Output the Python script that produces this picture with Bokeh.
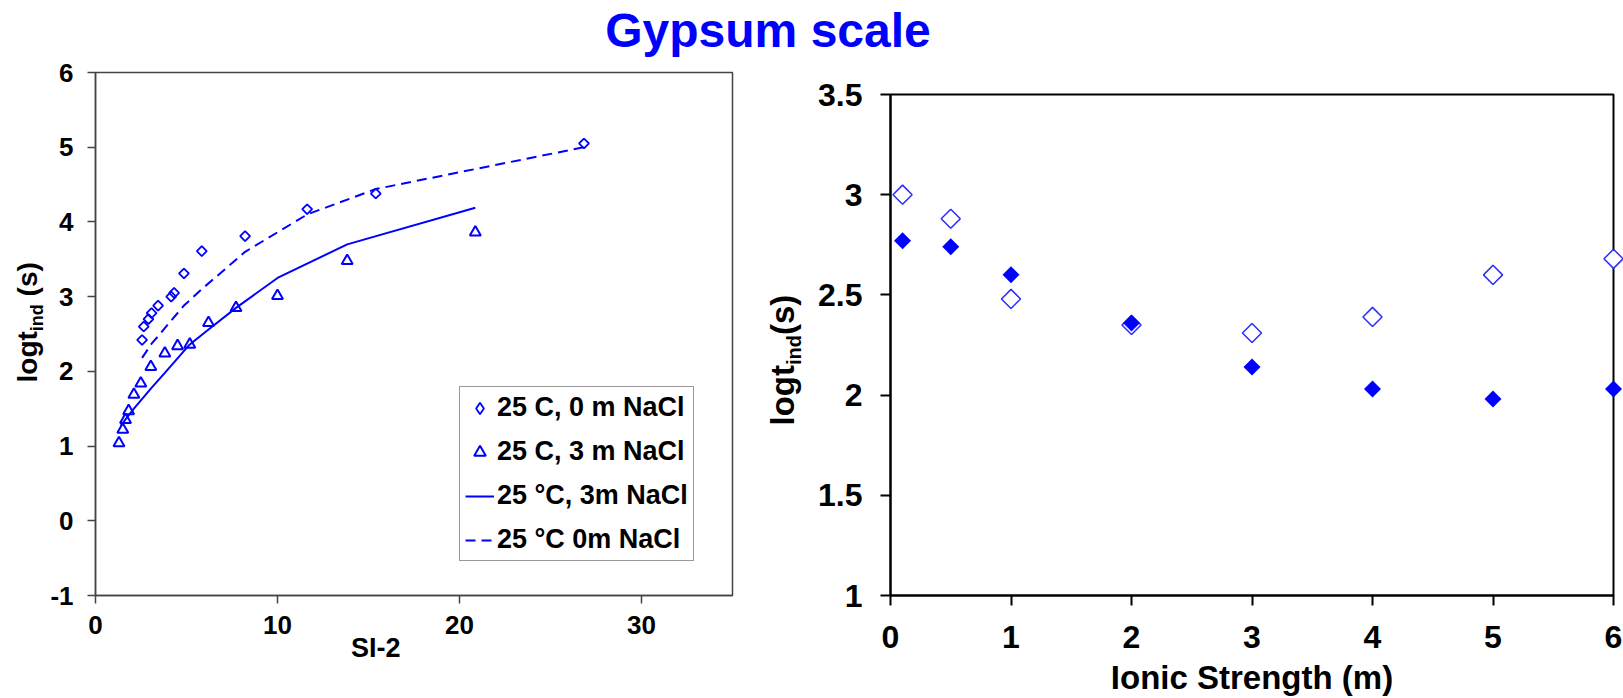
from math import pi

from bokeh.embed import file_html
from bokeh.layouts import column, row
from bokeh.models import (ColumnDataSource, FixedTicker, Label, Legend, LegendItem, LinearAxis,
                          NumeralTickFormatter, Range1d)
from bokeh.plotting import figure
from bokeh.resources import INLINE

# ---------------- data ----------------
# induction time vs supersaturation (SI-2), 25 C
si_0m = [2.56, 2.65, 2.91, 3.08, 3.44, 4.16, 4.32, 4.86, 5.84, 8.22, 11.63, 15.40, 26.84]
logt_0m = [2.42, 2.60, 2.70, 2.78, 2.88, 3.00, 3.05, 3.31, 3.61, 3.81, 4.17, 4.38, 5.05]

si_3m = [1.29, 1.50, 1.65, 1.82, 2.11, 2.49, 3.04, 3.81, 4.51, 5.18, 6.21, 7.72, 10.0, 13.83, 20.87]
logt_3m = [1.04, 1.22, 1.35, 1.47, 1.69, 1.84, 2.06, 2.24, 2.34, 2.36, 2.65, 2.85, 3.01, 3.48, 3.86]

# model curves
model_3m_si = [1.38, 1.66, 2.11, 3.04, 3.81, 5.18, 6.21, 7.72, 10.0, 13.83, 20.87]
model_3m_logt = [1.27, 1.36, 1.50, 1.77, 1.98, 2.36, 2.56, 2.85, 3.25, 3.70, 4.19]
model_0m_si = [2.56, 3.08, 3.44, 4.16, 4.86, 5.84, 8.22, 11.63, 15.40, 26.84]
model_0m_logt = [2.18, 2.37, 2.47, 2.68, 2.88, 3.10, 3.60, 4.10, 4.44, 5.00]

legend_labels = ["25 C, 0 m NaCl", "25 C, 3 m NaCl", "25 \u00b0C, 3m NaCl", "25 \u00b0C 0m NaCl"]

# induction time vs ionic strength
ionic = [0.1, 0.5, 1, 2, 3, 4, 5, 6]
logt_open = [3.00, 2.88, 2.48, 2.35, 2.31, 2.39, 2.60, 2.68]
logt_filled = [2.77, 2.74, 2.60, 2.36, 2.14, 2.03, 1.98, 2.03]

left_xticks = [0, 10, 20, 30]
left_yticks = [-1, 0, 1, 2, 3, 4, 5, 6]
right_xticks = [0, 1, 2, 3, 4, 5, 6]
right_yticks = [1, 1.5, 2, 2.5, 3, 3.5]

FONT = "Liberation Sans"
BLUE = "#0000ff"
ROW_H = 641


def style_axes(p, color, width, size):
    for ax in p.axis:
        ax.axis_line_color = color
        ax.axis_line_width = width
        ax.major_tick_line_color = color
        ax.major_tick_line_width = width
        ax.major_tick_in = 0
        ax.minor_tick_line_color = None
        ax.major_label_text_font = FONT
        ax.major_label_text_font_style = "bold"
        ax.major_label_text_font_size = size
        ax.major_label_text_color = "black"
    p.grid.grid_line_color = None
    p.outline_line_color = color
    p.outline_line_width = width


def text(x, y, s, size, angle=0.0, align="left", color="black"):
    return Label(x=x, y=y, x_units="screen", y_units="screen", text=s, angle=angle,
                 text_align=align, text_baseline="middle", text_font=FONT,
                 text_font_style="bold", text_font_size=size, text_color=color)


def blank(width, height):
    # axis-free strip used to hold free text
    p = figure(width=width, height=height, x_range=Range1d(0, 1), y_range=Range1d(0, 1),
               toolbar_location=None, output_backend="svg", min_border=0,
               x_axis_location=None, y_axis_location=None, outline_line_color=None,
               frame_align=False)
    p.grid.grid_line_color = None
    return p


# ---------------- title strip ----------------
head = blank(1623, 57)
head.add_layout(text(767.5, 27.4, "Gypsum scale", "48px", align="center", color=BLUE))

# ---------------- left y label ----------------
lab_l = blank(47, ROW_H)
lab_l.add_layout(text(27.3, 316, "logt", "28px", angle=pi / 2))
lab_l.add_layout(text(36.8, 367.3, "ind", "18px", angle=pi / 2))
lab_l.add_layout(text(27.3, 402.1, "(s)", "28px", angle=pi / 2))

# ---------------- left panel ----------------
left = figure(width=703, height=ROW_H, x_range=Range1d(0, 35), y_range=Range1d(-1, 6),
              toolbar_location=None, output_backend="svg", frame_align=False,
              min_border_left=46, min_border_right=18, min_border_top=15, min_border_bottom=103)
style_axes(left, "#444444", 1.5, "26px")
left.xaxis.ticker = FixedTicker(ticks=left_xticks)
left.yaxis.ticker = FixedTicker(ticks=left_yticks)
left.yaxis.major_label_overrides = {-1: "-1"}
left.xaxis.major_tick_out = 8
left.yaxis.major_tick_out = 8
left.xaxis.major_label_standoff = 12
left.yaxis.major_label_standoff = 14

# x title sits off-centre, just under the tick labels
si_axis = LinearAxis(ticker=FixedTicker(ticks=[15.4]), major_label_overrides={15.4: "SI-2"},
                     axis_line_color=None, major_tick_line_color=None, minor_tick_line_color=None,
                     major_tick_out=0, major_tick_in=0, major_label_standoff=-4,
                     major_label_text_font=FONT, major_label_text_font_style="bold",
                     major_label_text_font_size="27px", major_label_text_color="black")
left.add_layout(si_axis, "below")

line_3m = left.line(model_3m_si, model_3m_logt, line_color=BLUE, line_width=2)
line_0m = left.line(model_0m_si, model_0m_logt, line_color=BLUE, line_width=2, line_dash="10 6")

src_0m = ColumnDataSource(dict(x=si_0m, y=logt_0m))
src_3m = ColumnDataSource(dict(x=si_3m, y=logt_3m))
left.scatter("x", "y", source=src_0m, marker="square", angle=pi / 4, size=7,
             line_color=BLUE, line_width=1.8, fill_color=None)
left.scatter("x", "y", source=src_3m, marker="triangle", size=11,
             line_color=BLUE, line_width=2, fill_color=None)

# legend swatches: same series, zero size in the frame (legend sizes its own glyphs)
key_d = left.scatter("x", "y", source=src_0m, marker="diamond", size=0,
                     line_color=BLUE, line_width=1.8, fill_color=None)
key_t = left.scatter("x", "y", source=src_3m, marker="triangle", size=0,
                     line_color=BLUE, line_width=2, fill_color=None)

legend = Legend(items=[LegendItem(label=legend_labels[0], renderers=[key_d]),
                       LegendItem(label=legend_labels[1], renderers=[key_t]),
                       LegendItem(label=legend_labels[2], renderers=[line_3m]),
                       LegendItem(label=legend_labels[3], renderers=[line_0m])],
                location=(364, 34), orientation="vertical", margin=0, padding=5, spacing=13,
                glyph_width=29, glyph_height=30, label_height=30, label_standoff=3,
                label_text_font=FONT, label_text_font_style="bold", label_text_font_size="27px",
                label_text_color="black",
                border_line_color="#333333", border_line_width=1.5,
                background_fill_color="white", background_fill_alpha=1)
left.add_layout(legend)

# ---------------- right y label ----------------
lab_r = blank(62, ROW_H)
lab_r.add_layout(text(31.6, 273, "logt", "33px", angle=pi / 2))
lab_r.add_layout(text(43.1, 333.5, "ind", "20px", angle=pi / 2))
lab_r.add_layout(text(31.6, 363.5, "(s)", "33px", angle=pi / 2))

# ---------------- right panel ----------------
right = figure(width=811, height=ROW_H, x_range=Range1d(0, 6), y_range=Range1d(1, 3.5),
               toolbar_location=None, output_backend="svg", frame_align=False,
               min_border_left=78, min_border_right=10, min_border_top=37, min_border_bottom=102)
style_axes(right, "black", 2, "32px")
right.xaxis.ticker = FixedTicker(ticks=right_xticks)
right.yaxis.ticker = FixedTicker(ticks=right_yticks)
right.yaxis.formatter = NumeralTickFormatter(format="0.[0]")
right.xaxis.major_tick_out = 10
right.yaxis.major_tick_out = 10
right.xaxis.major_label_standoff = 20
right.yaxis.major_label_standoff = 18
right.xaxis.axis_label = "Ionic Strength (m)"
right.xaxis.axis_label_standoff = 8
right.xaxis.axis_label_text_font = FONT
right.xaxis.axis_label_text_font_style = "bold"
right.xaxis.axis_label_text_font_size = "33px"
right.xaxis.axis_label_text_color = "black"

r_open = right.scatter(ionic, logt_open, marker="square", angle=pi / 4, size=13.5,
                       line_color="#2b2bff", line_width=1.5, fill_color="white")
r_fill = right.scatter(ionic, logt_filled, marker="square", angle=pi / 4, size=12,
                       line_color=None, fill_color=BLUE)
r_open.level = "overlay"
r_fill.level = "overlay"

page = column(head, row(lab_l, left, lab_r, right))
open("out.html", "w").write(file_html(page, INLINE))
